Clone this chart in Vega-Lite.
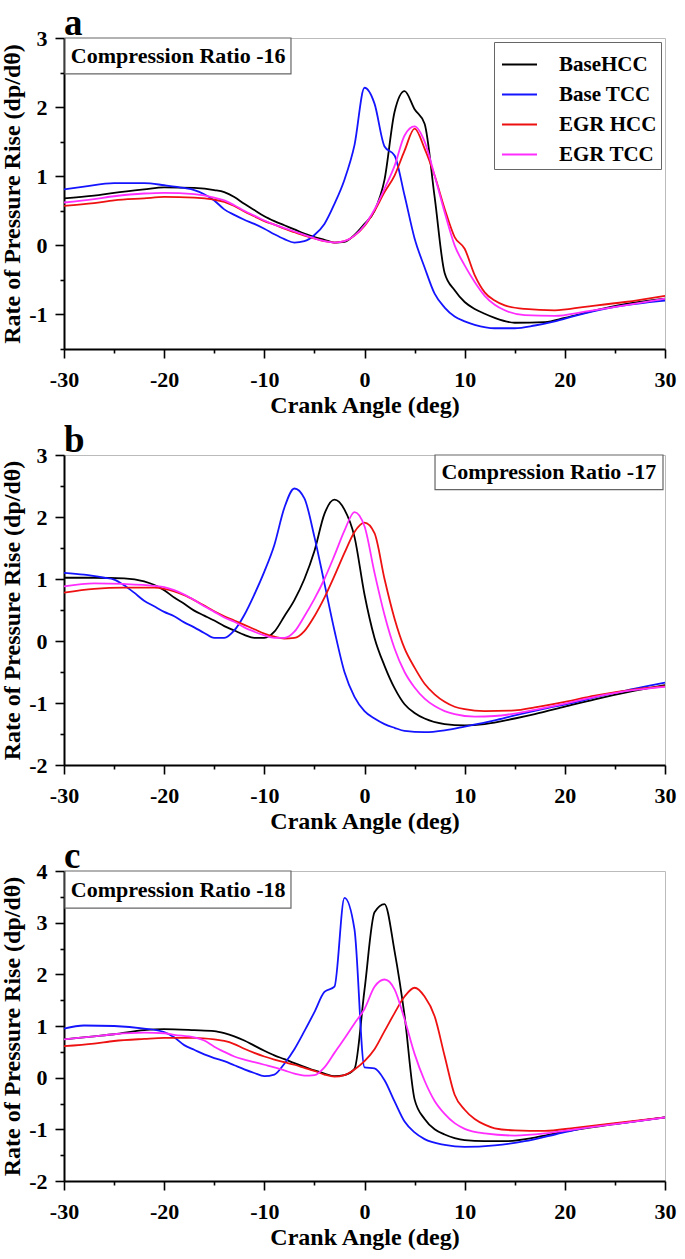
{
  "$schema": "https://vega.github.io/schema/vega-lite/v6.json",
  "background": "white",
  "padding": {"left": 0, "top": 4, "right": 4, "bottom": 2},
  "bounds": "flush",
  "spacing": 106,
  "config": {
    "font": "Liberation Serif",
    "view": {"stroke": "#bbbbbb", "strokeWidth": 1},
    "axis": {
      "labelFont": "Liberation Serif", "labelFontSize": 22, "labelFontWeight": "bold", "labelColor": "#000000",
      "titleFont": "Liberation Serif", "titleFontSize": 24, "titleFontWeight": "bold", "titleColor": "#000000",
      "domainColor": "#000000", "domainWidth": 2, "tickColor": "#000000", "tickWidth": 1.6, "tickSize": 9,
      "grid": false, "labelPadding": 8, "titlePadding": 4, "labelFlush": false, "labelOverlap": false, "labelBound": false,
      "labelExpr": "datum.value + ''"
    },
    "axisX": {"labelPadding": 11, "titlePadding": 3},
    "legend": {
      "labelFont": "Liberation Serif", "labelFontSize": 21, "labelFontWeight": "bold", "labelColor": "#000000",
      "symbolType": "stroke", "symbolStrokeWidth": 2, "symbolSize": 1225, "symbolOffset": 3,
      "padding": 4, "rowPadding": 1, "labelOffset": 21, "strokeColor": "#666666", "fillColor": "white"
    },
    "title": {"font": "Liberation Serif", "fontSize": 37, "fontWeight": "bold", "color": "#000000", "anchor": "start", "frame": "group", "offset": -16}
  },
  "resolve": {"scale": {"color": "independent"}, "legend": {"color": "independent"}},
  "datasets": {
    "curves": [
      {"panel":"a","series":"BaseHCC","angle":-30,"rate":0.68},{"panel":"a","series":"BaseHCC","angle":-27,"rate":0.72},{"panel":"a","series":"BaseHCC","angle":-25,"rate":0.76},{"panel":"a","series":"BaseHCC","angle":-22,"rate":0.81},{"panel":"a","series":"BaseHCC","angle":-20,"rate":0.84},{"panel":"a","series":"BaseHCC","angle":-17,"rate":0.83},{"panel":"a","series":"BaseHCC","angle":-15,"rate":0.8},{"panel":"a","series":"BaseHCC","angle":-14,"rate":0.77},{"panel":"a","series":"BaseHCC","angle":-13,"rate":0.7},{"panel":"a","series":"BaseHCC","angle":-12,"rate":0.6},{"panel":"a","series":"BaseHCC","angle":-11,"rate":0.51},{"panel":"a","series":"BaseHCC","angle":-10,"rate":0.42},{"panel":"a","series":"BaseHCC","angle":-9,"rate":0.35},{"panel":"a","series":"BaseHCC","angle":-8,"rate":0.29},{"panel":"a","series":"BaseHCC","angle":-7,"rate":0.23},{"panel":"a","series":"BaseHCC","angle":-6,"rate":0.17},{"panel":"a","series":"BaseHCC","angle":-5,"rate":0.12},{"panel":"a","series":"BaseHCC","angle":-4,"rate":0.08},{"panel":"a","series":"BaseHCC","angle":-3,"rate":0.04},{"panel":"a","series":"BaseHCC","angle":-2,"rate":0.05},{"panel":"a","series":"BaseHCC","angle":-1,"rate":0.15},{"panel":"a","series":"BaseHCC","angle":0,"rate":0.31},{"panel":"a","series":"BaseHCC","angle":1,"rate":0.5},{"panel":"a","series":"BaseHCC","angle":2,"rate":0.95},{"panel":"a","series":"BaseHCC","angle":3,"rate":1.93},{"panel":"a","series":"BaseHCC","angle":4,"rate":2.23},{"panel":"a","series":"BaseHCC","angle":5,"rate":1.97},{"panel":"a","series":"BaseHCC","angle":6,"rate":1.76},{"panel":"a","series":"BaseHCC","angle":7,"rate":0.7},{"panel":"a","series":"BaseHCC","angle":8,"rate":-0.4},{"panel":"a","series":"BaseHCC","angle":9,"rate":-0.65},{"panel":"a","series":"BaseHCC","angle":10,"rate":-0.82},{"panel":"a","series":"BaseHCC","angle":11,"rate":-0.92},{"panel":"a","series":"BaseHCC","angle":12,"rate":-0.99},{"panel":"a","series":"BaseHCC","angle":13,"rate":-1.05},{"panel":"a","series":"BaseHCC","angle":15,"rate":-1.12},{"panel":"a","series":"BaseHCC","angle":18,"rate":-1.11},{"panel":"a","series":"BaseHCC","angle":20,"rate":-1.05},{"panel":"a","series":"BaseHCC","angle":23,"rate":-0.94},{"panel":"a","series":"BaseHCC","angle":26,"rate":-0.85},{"panel":"a","series":"BaseHCC","angle":30,"rate":-0.77},
      {"panel":"a","series":"Base TCC","angle":-30,"rate":0.81},{"panel":"a","series":"Base TCC","angle":-28,"rate":0.85},{"panel":"a","series":"Base TCC","angle":-25,"rate":0.9},{"panel":"a","series":"Base TCC","angle":-22,"rate":0.9},{"panel":"a","series":"Base TCC","angle":-20,"rate":0.87},{"panel":"a","series":"Base TCC","angle":-18,"rate":0.83},{"panel":"a","series":"Base TCC","angle":-17,"rate":0.8},{"panel":"a","series":"Base TCC","angle":-16,"rate":0.74},{"panel":"a","series":"Base TCC","angle":-15,"rate":0.65},{"panel":"a","series":"Base TCC","angle":-14,"rate":0.52},{"panel":"a","series":"Base TCC","angle":-13,"rate":0.44},{"panel":"a","series":"Base TCC","angle":-12,"rate":0.37},{"panel":"a","series":"Base TCC","angle":-11,"rate":0.31},{"panel":"a","series":"Base TCC","angle":-10,"rate":0.24},{"panel":"a","series":"Base TCC","angle":-9,"rate":0.16},{"panel":"a","series":"Base TCC","angle":-8,"rate":0.09},{"panel":"a","series":"Base TCC","angle":-7,"rate":0.04},{"panel":"a","series":"Base TCC","angle":-6,"rate":0.06},{"panel":"a","series":"Base TCC","angle":-5,"rate":0.15},{"panel":"a","series":"Base TCC","angle":-4,"rate":0.31},{"panel":"a","series":"Base TCC","angle":-3,"rate":0.6},{"panel":"a","series":"Base TCC","angle":-2,"rate":0.95},{"panel":"a","series":"Base TCC","angle":-1,"rate":1.45},{"panel":"a","series":"Base TCC","angle":0,"rate":2.28},{"panel":"a","series":"Base TCC","angle":1,"rate":2.05},{"panel":"a","series":"Base TCC","angle":2,"rate":1.43},{"panel":"a","series":"Base TCC","angle":3,"rate":1.3},{"panel":"a","series":"Base TCC","angle":4,"rate":0.72},{"panel":"a","series":"Base TCC","angle":5,"rate":0.1},{"panel":"a","series":"Base TCC","angle":6,"rate":-0.32},{"panel":"a","series":"Base TCC","angle":7,"rate":-0.7},{"panel":"a","series":"Base TCC","angle":8,"rate":-0.9},{"panel":"a","series":"Base TCC","angle":9,"rate":-1.03},{"panel":"a","series":"Base TCC","angle":10,"rate":-1.1},{"panel":"a","series":"Base TCC","angle":11,"rate":-1.15},{"panel":"a","series":"Base TCC","angle":13,"rate":-1.2},{"panel":"a","series":"Base TCC","angle":15,"rate":-1.2},{"panel":"a","series":"Base TCC","angle":17,"rate":-1.16},{"panel":"a","series":"Base TCC","angle":19,"rate":-1.1},{"panel":"a","series":"Base TCC","angle":21,"rate":-1.02},{"panel":"a","series":"Base TCC","angle":25,"rate":-0.89},{"panel":"a","series":"Base TCC","angle":30,"rate":-0.8},
      {"panel":"a","series":"EGR HCC","angle":-30,"rate":0.57},{"panel":"a","series":"EGR HCC","angle":-27,"rate":0.61},{"panel":"a","series":"EGR HCC","angle":-25,"rate":0.65},{"panel":"a","series":"EGR HCC","angle":-22,"rate":0.68},{"panel":"a","series":"EGR HCC","angle":-20,"rate":0.7},{"panel":"a","series":"EGR HCC","angle":-17,"rate":0.69},{"panel":"a","series":"EGR HCC","angle":-15,"rate":0.66},{"panel":"a","series":"EGR HCC","angle":-14,"rate":0.63},{"panel":"a","series":"EGR HCC","angle":-13,"rate":0.57},{"panel":"a","series":"EGR HCC","angle":-12,"rate":0.49},{"panel":"a","series":"EGR HCC","angle":-11,"rate":0.42},{"panel":"a","series":"EGR HCC","angle":-10,"rate":0.35},{"panel":"a","series":"EGR HCC","angle":-9,"rate":0.3},{"panel":"a","series":"EGR HCC","angle":-8,"rate":0.24},{"panel":"a","series":"EGR HCC","angle":-7,"rate":0.19},{"panel":"a","series":"EGR HCC","angle":-6,"rate":0.14},{"panel":"a","series":"EGR HCC","angle":-5,"rate":0.1},{"panel":"a","series":"EGR HCC","angle":-4,"rate":0.06},{"panel":"a","series":"EGR HCC","angle":-3,"rate":0.04},{"panel":"a","series":"EGR HCC","angle":-2,"rate":0.06},{"panel":"a","series":"EGR HCC","angle":-1,"rate":0.14},{"panel":"a","series":"EGR HCC","angle":0,"rate":0.28},{"panel":"a","series":"EGR HCC","angle":1,"rate":0.5},{"panel":"a","series":"EGR HCC","angle":2,"rate":0.77},{"panel":"a","series":"EGR HCC","angle":3,"rate":1.01},{"panel":"a","series":"EGR HCC","angle":4,"rate":1.37},{"panel":"a","series":"EGR HCC","angle":5,"rate":1.69},{"panel":"a","series":"EGR HCC","angle":6,"rate":1.4},{"panel":"a","series":"EGR HCC","angle":7,"rate":1.01},{"panel":"a","series":"EGR HCC","angle":8,"rate":0.53},{"panel":"a","series":"EGR HCC","angle":9,"rate":0.12},{"panel":"a","series":"EGR HCC","angle":10,"rate":-0.05},{"panel":"a","series":"EGR HCC","angle":11,"rate":-0.43},{"panel":"a","series":"EGR HCC","angle":12,"rate":-0.68},{"panel":"a","series":"EGR HCC","angle":13,"rate":-0.8},{"panel":"a","series":"EGR HCC","angle":14,"rate":-0.87},{"panel":"a","series":"EGR HCC","angle":16,"rate":-0.92},{"panel":"a","series":"EGR HCC","angle":19,"rate":-0.94},{"panel":"a","series":"EGR HCC","angle":22,"rate":-0.89},{"panel":"a","series":"EGR HCC","angle":26,"rate":-0.82},{"panel":"a","series":"EGR HCC","angle":30,"rate":-0.73},
      {"panel":"a","series":"EGR TCC","angle":-30,"rate":0.62},{"panel":"a","series":"EGR TCC","angle":-27,"rate":0.67},{"panel":"a","series":"EGR TCC","angle":-25,"rate":0.71},{"panel":"a","series":"EGR TCC","angle":-22,"rate":0.75},{"panel":"a","series":"EGR TCC","angle":-20,"rate":0.76},{"panel":"a","series":"EGR TCC","angle":-17,"rate":0.74},{"panel":"a","series":"EGR TCC","angle":-15,"rate":0.69},{"panel":"a","series":"EGR TCC","angle":-14,"rate":0.65},{"panel":"a","series":"EGR TCC","angle":-13,"rate":0.58},{"panel":"a","series":"EGR TCC","angle":-12,"rate":0.5},{"panel":"a","series":"EGR TCC","angle":-11,"rate":0.43},{"panel":"a","series":"EGR TCC","angle":-10,"rate":0.36},{"panel":"a","series":"EGR TCC","angle":-9,"rate":0.3},{"panel":"a","series":"EGR TCC","angle":-8,"rate":0.25},{"panel":"a","series":"EGR TCC","angle":-7,"rate":0.2},{"panel":"a","series":"EGR TCC","angle":-6,"rate":0.15},{"panel":"a","series":"EGR TCC","angle":-5,"rate":0.1},{"panel":"a","series":"EGR TCC","angle":-4,"rate":0.06},{"panel":"a","series":"EGR TCC","angle":-3,"rate":0.04},{"panel":"a","series":"EGR TCC","angle":-2,"rate":0.06},{"panel":"a","series":"EGR TCC","angle":-1,"rate":0.14},{"panel":"a","series":"EGR TCC","angle":0,"rate":0.29},{"panel":"a","series":"EGR TCC","angle":1,"rate":0.52},{"panel":"a","series":"EGR TCC","angle":2,"rate":0.82},{"panel":"a","series":"EGR TCC","angle":3,"rate":1.15},{"panel":"a","series":"EGR TCC","angle":4,"rate":1.59},{"panel":"a","series":"EGR TCC","angle":5,"rate":1.72},{"panel":"a","series":"EGR TCC","angle":6,"rate":1.5},{"panel":"a","series":"EGR TCC","angle":7,"rate":1.01},{"panel":"a","series":"EGR TCC","angle":8,"rate":0.48},{"panel":"a","series":"EGR TCC","angle":9,"rate":0.0},{"panel":"a","series":"EGR TCC","angle":10,"rate":-0.29},{"panel":"a","series":"EGR TCC","angle":11,"rate":-0.53},{"panel":"a","series":"EGR TCC","angle":12,"rate":-0.73},{"panel":"a","series":"EGR TCC","angle":13,"rate":-0.86},{"panel":"a","series":"EGR TCC","angle":14,"rate":-0.94},{"panel":"a","series":"EGR TCC","angle":16,"rate":-1.01},{"panel":"a","series":"EGR TCC","angle":19,"rate":-1.02},{"panel":"a","series":"EGR TCC","angle":22,"rate":-0.96},{"panel":"a","series":"EGR TCC","angle":26,"rate":-0.87},{"panel":"a","series":"EGR TCC","angle":30,"rate":-0.77},
      {"panel":"b","series":"BaseHCC","angle":-30,"rate":1.02},{"panel":"b","series":"BaseHCC","angle":-27,"rate":1.02},{"panel":"b","series":"BaseHCC","angle":-24,"rate":1.01},{"panel":"b","series":"BaseHCC","angle":-22,"rate":0.96},{"panel":"b","series":"BaseHCC","angle":-20,"rate":0.82},{"panel":"b","series":"BaseHCC","angle":-19,"rate":0.7},{"panel":"b","series":"BaseHCC","angle":-18,"rate":0.6},{"panel":"b","series":"BaseHCC","angle":-17,"rate":0.49},{"panel":"b","series":"BaseHCC","angle":-16,"rate":0.41},{"panel":"b","series":"BaseHCC","angle":-15,"rate":0.33},{"panel":"b","series":"BaseHCC","angle":-14,"rate":0.24},{"panel":"b","series":"BaseHCC","angle":-13,"rate":0.17},{"panel":"b","series":"BaseHCC","angle":-12,"rate":0.1},{"panel":"b","series":"BaseHCC","angle":-11,"rate":0.05},{"panel":"b","series":"BaseHCC","angle":-10,"rate":0.05},{"panel":"b","series":"BaseHCC","angle":-9,"rate":0.15},{"panel":"b","series":"BaseHCC","angle":-8,"rate":0.4},{"panel":"b","series":"BaseHCC","angle":-7,"rate":0.66},{"panel":"b","series":"BaseHCC","angle":-6,"rate":1.0},{"panel":"b","series":"BaseHCC","angle":-5,"rate":1.45},{"panel":"b","series":"BaseHCC","angle":-4,"rate":2.05},{"panel":"b","series":"BaseHCC","angle":-3,"rate":2.28},{"panel":"b","series":"BaseHCC","angle":-2,"rate":2.12},{"panel":"b","series":"BaseHCC","angle":-1,"rate":1.68},{"panel":"b","series":"BaseHCC","angle":0,"rate":0.75},{"panel":"b","series":"BaseHCC","angle":1,"rate":0.05},{"panel":"b","series":"BaseHCC","angle":2,"rate":-0.4},{"panel":"b","series":"BaseHCC","angle":3,"rate":-0.76},{"panel":"b","series":"BaseHCC","angle":4,"rate":-1.02},{"panel":"b","series":"BaseHCC","angle":5,"rate":-1.16},{"panel":"b","series":"BaseHCC","angle":6,"rate":-1.25},{"panel":"b","series":"BaseHCC","angle":8,"rate":-1.34},{"panel":"b","series":"BaseHCC","angle":10,"rate":-1.36},{"panel":"b","series":"BaseHCC","angle":12,"rate":-1.34},{"panel":"b","series":"BaseHCC","angle":15,"rate":-1.25},{"panel":"b","series":"BaseHCC","angle":17,"rate":-1.18},{"panel":"b","series":"BaseHCC","angle":20,"rate":-1.06},{"panel":"b","series":"BaseHCC","angle":23,"rate":-0.94},{"panel":"b","series":"BaseHCC","angle":27,"rate":-0.8},{"panel":"b","series":"BaseHCC","angle":30,"rate":-0.71},
      {"panel":"b","series":"Base TCC","angle":-30,"rate":1.1},{"panel":"b","series":"Base TCC","angle":-28,"rate":1.07},{"panel":"b","series":"Base TCC","angle":-26,"rate":1.02},{"panel":"b","series":"Base TCC","angle":-25,"rate":0.99},{"panel":"b","series":"Base TCC","angle":-24,"rate":0.9},{"panel":"b","series":"Base TCC","angle":-23,"rate":0.78},{"panel":"b","series":"Base TCC","angle":-22,"rate":0.65},{"panel":"b","series":"Base TCC","angle":-21,"rate":0.56},{"panel":"b","series":"Base TCC","angle":-20,"rate":0.47},{"panel":"b","series":"Base TCC","angle":-19,"rate":0.4},{"panel":"b","series":"Base TCC","angle":-18,"rate":0.3},{"panel":"b","series":"Base TCC","angle":-17,"rate":0.22},{"panel":"b","series":"Base TCC","angle":-16,"rate":0.13},{"panel":"b","series":"Base TCC","angle":-15,"rate":0.05},{"panel":"b","series":"Base TCC","angle":-14,"rate":0.05},{"panel":"b","series":"Base TCC","angle":-13,"rate":0.17},{"panel":"b","series":"Base TCC","angle":-12,"rate":0.42},{"panel":"b","series":"Base TCC","angle":-11,"rate":0.75},{"panel":"b","series":"Base TCC","angle":-10,"rate":1.12},{"panel":"b","series":"Base TCC","angle":-9,"rate":1.55},{"panel":"b","series":"Base TCC","angle":-8,"rate":2.15},{"panel":"b","series":"Base TCC","angle":-7,"rate":2.46},{"panel":"b","series":"Base TCC","angle":-6,"rate":2.3},{"panel":"b","series":"Base TCC","angle":-5,"rate":1.68},{"panel":"b","series":"Base TCC","angle":-4,"rate":0.93},{"panel":"b","series":"Base TCC","angle":-3,"rate":0.17},{"panel":"b","series":"Base TCC","angle":-2,"rate":-0.5},{"panel":"b","series":"Base TCC","angle":-1,"rate":-0.9},{"panel":"b","series":"Base TCC","angle":0,"rate":-1.13},{"panel":"b","series":"Base TCC","angle":1,"rate":-1.25},{"panel":"b","series":"Base TCC","angle":2,"rate":-1.34},{"panel":"b","series":"Base TCC","angle":3,"rate":-1.4},{"panel":"b","series":"Base TCC","angle":4,"rate":-1.45},{"panel":"b","series":"Base TCC","angle":6,"rate":-1.47},{"panel":"b","series":"Base TCC","angle":8,"rate":-1.44},{"panel":"b","series":"Base TCC","angle":10,"rate":-1.38},{"panel":"b","series":"Base TCC","angle":13,"rate":-1.28},{"panel":"b","series":"Base TCC","angle":15,"rate":-1.2},{"panel":"b","series":"Base TCC","angle":18,"rate":-1.09},{"panel":"b","series":"Base TCC","angle":21,"rate":-0.99},{"panel":"b","series":"Base TCC","angle":24,"rate":-0.87},{"panel":"b","series":"Base TCC","angle":27,"rate":-0.77},{"panel":"b","series":"Base TCC","angle":30,"rate":-0.67},
      {"panel":"b","series":"EGR HCC","angle":-30,"rate":0.78},{"panel":"b","series":"EGR HCC","angle":-27,"rate":0.84},{"panel":"b","series":"EGR HCC","angle":-24,"rate":0.86},{"panel":"b","series":"EGR HCC","angle":-21,"rate":0.86},{"panel":"b","series":"EGR HCC","angle":-20,"rate":0.84},{"panel":"b","series":"EGR HCC","angle":-19,"rate":0.8},{"panel":"b","series":"EGR HCC","angle":-18,"rate":0.74},{"panel":"b","series":"EGR HCC","angle":-17,"rate":0.66},{"panel":"b","series":"EGR HCC","angle":-16,"rate":0.57},{"panel":"b","series":"EGR HCC","angle":-15,"rate":0.48},{"panel":"b","series":"EGR HCC","angle":-14,"rate":0.4},{"panel":"b","series":"EGR HCC","angle":-13,"rate":0.33},{"panel":"b","series":"EGR HCC","angle":-12,"rate":0.26},{"panel":"b","series":"EGR HCC","angle":-11,"rate":0.19},{"panel":"b","series":"EGR HCC","angle":-10,"rate":0.12},{"panel":"b","series":"EGR HCC","angle":-9,"rate":0.07},{"panel":"b","series":"EGR HCC","angle":-8,"rate":0.04},{"panel":"b","series":"EGR HCC","angle":-7,"rate":0.05},{"panel":"b","series":"EGR HCC","angle":-6,"rate":0.16},{"panel":"b","series":"EGR HCC","angle":-5,"rate":0.4},{"panel":"b","series":"EGR HCC","angle":-4,"rate":0.7},{"panel":"b","series":"EGR HCC","angle":-3,"rate":1.05},{"panel":"b","series":"EGR HCC","angle":-2,"rate":1.42},{"panel":"b","series":"EGR HCC","angle":-1,"rate":1.76},{"panel":"b","series":"EGR HCC","angle":0,"rate":1.91},{"panel":"b","series":"EGR HCC","angle":1,"rate":1.74},{"panel":"b","series":"EGR HCC","angle":2,"rate":1.0},{"panel":"b","series":"EGR HCC","angle":3,"rate":0.36},{"panel":"b","series":"EGR HCC","angle":4,"rate":-0.12},{"panel":"b","series":"EGR HCC","angle":5,"rate":-0.43},{"panel":"b","series":"EGR HCC","angle":6,"rate":-0.69},{"panel":"b","series":"EGR HCC","angle":7,"rate":-0.86},{"panel":"b","series":"EGR HCC","angle":8,"rate":-0.98},{"panel":"b","series":"EGR HCC","angle":9,"rate":-1.06},{"panel":"b","series":"EGR HCC","angle":10,"rate":-1.1},{"panel":"b","series":"EGR HCC","angle":12,"rate":-1.13},{"panel":"b","series":"EGR HCC","angle":15,"rate":-1.12},{"panel":"b","series":"EGR HCC","angle":17,"rate":-1.07},{"panel":"b","series":"EGR HCC","angle":20,"rate":-0.98},{"panel":"b","series":"EGR HCC","angle":23,"rate":-0.88},{"panel":"b","series":"EGR HCC","angle":27,"rate":-0.78},{"panel":"b","series":"EGR HCC","angle":30,"rate":-0.73},
      {"panel":"b","series":"EGR TCC","angle":-30,"rate":0.88},{"panel":"b","series":"EGR TCC","angle":-27,"rate":0.93},{"panel":"b","series":"EGR TCC","angle":-24,"rate":0.92},{"panel":"b","series":"EGR TCC","angle":-21,"rate":0.89},{"panel":"b","series":"EGR TCC","angle":-20,"rate":0.87},{"panel":"b","series":"EGR TCC","angle":-19,"rate":0.82},{"panel":"b","series":"EGR TCC","angle":-18,"rate":0.75},{"panel":"b","series":"EGR TCC","angle":-17,"rate":0.66},{"panel":"b","series":"EGR TCC","angle":-16,"rate":0.56},{"panel":"b","series":"EGR TCC","angle":-15,"rate":0.47},{"panel":"b","series":"EGR TCC","angle":-14,"rate":0.38},{"panel":"b","series":"EGR TCC","angle":-13,"rate":0.31},{"panel":"b","series":"EGR TCC","angle":-12,"rate":0.22},{"panel":"b","series":"EGR TCC","angle":-11,"rate":0.15},{"panel":"b","series":"EGR TCC","angle":-10,"rate":0.09},{"panel":"b","series":"EGR TCC","angle":-9,"rate":0.05},{"panel":"b","series":"EGR TCC","angle":-8,"rate":0.05},{"panel":"b","series":"EGR TCC","angle":-7,"rate":0.15},{"panel":"b","series":"EGR TCC","angle":-6,"rate":0.4},{"panel":"b","series":"EGR TCC","angle":-5,"rate":0.68},{"panel":"b","series":"EGR TCC","angle":-4,"rate":1.0},{"panel":"b","series":"EGR TCC","angle":-3,"rate":1.38},{"panel":"b","series":"EGR TCC","angle":-2,"rate":1.78},{"panel":"b","series":"EGR TCC","angle":-1,"rate":2.08},{"panel":"b","series":"EGR TCC","angle":0,"rate":1.85},{"panel":"b","series":"EGR TCC","angle":1,"rate":1.1},{"panel":"b","series":"EGR TCC","angle":2,"rate":0.42},{"panel":"b","series":"EGR TCC","angle":3,"rate":-0.12},{"panel":"b","series":"EGR TCC","angle":4,"rate":-0.5},{"panel":"b","series":"EGR TCC","angle":5,"rate":-0.75},{"panel":"b","series":"EGR TCC","angle":6,"rate":-0.93},{"panel":"b","series":"EGR TCC","angle":7,"rate":-1.05},{"panel":"b","series":"EGR TCC","angle":8,"rate":-1.13},{"panel":"b","series":"EGR TCC","angle":9,"rate":-1.18},{"panel":"b","series":"EGR TCC","angle":11,"rate":-1.22},{"panel":"b","series":"EGR TCC","angle":13,"rate":-1.21},{"panel":"b","series":"EGR TCC","angle":15,"rate":-1.17},{"panel":"b","series":"EGR TCC","angle":17,"rate":-1.11},{"panel":"b","series":"EGR TCC","angle":20,"rate":-1.01},{"panel":"b","series":"EGR TCC","angle":23,"rate":-0.9},{"panel":"b","series":"EGR TCC","angle":27,"rate":-0.79},{"panel":"b","series":"EGR TCC","angle":30,"rate":-0.74},
      {"panel":"c","series":"BaseHCC","angle":-30,"rate":0.74},{"panel":"c","series":"BaseHCC","angle":-27,"rate":0.8},{"panel":"c","series":"BaseHCC","angle":-25,"rate":0.84},{"panel":"c","series":"BaseHCC","angle":-22,"rate":0.92},{"panel":"c","series":"BaseHCC","angle":-20,"rate":0.94},{"panel":"c","series":"BaseHCC","angle":-17,"rate":0.92},{"panel":"c","series":"BaseHCC","angle":-15,"rate":0.9},{"panel":"c","series":"BaseHCC","angle":-14,"rate":0.86},{"panel":"c","series":"BaseHCC","angle":-13,"rate":0.8},{"panel":"c","series":"BaseHCC","angle":-12,"rate":0.72},{"panel":"c","series":"BaseHCC","angle":-11,"rate":0.62},{"panel":"c","series":"BaseHCC","angle":-10,"rate":0.52},{"panel":"c","series":"BaseHCC","angle":-9,"rate":0.43},{"panel":"c","series":"BaseHCC","angle":-8,"rate":0.36},{"panel":"c","series":"BaseHCC","angle":-7,"rate":0.28},{"panel":"c","series":"BaseHCC","angle":-6,"rate":0.21},{"panel":"c","series":"BaseHCC","angle":-5,"rate":0.14},{"panel":"c","series":"BaseHCC","angle":-4,"rate":0.08},{"panel":"c","series":"BaseHCC","angle":-3,"rate":0.03},{"panel":"c","series":"BaseHCC","angle":-2,"rate":0.05},{"panel":"c","series":"BaseHCC","angle":-1,"rate":0.17},{"panel":"c","series":"BaseHCC","angle":0,"rate":1.7},{"panel":"c","series":"BaseHCC","angle":1,"rate":3.2},{"panel":"c","series":"BaseHCC","angle":2,"rate":3.36},{"panel":"c","series":"BaseHCC","angle":3,"rate":2.45},{"panel":"c","series":"BaseHCC","angle":4,"rate":1.2},{"panel":"c","series":"BaseHCC","angle":5,"rate":-0.42},{"panel":"c","series":"BaseHCC","angle":6,"rate":-0.8},{"panel":"c","series":"BaseHCC","angle":7,"rate":-1.0},{"panel":"c","series":"BaseHCC","angle":8,"rate":-1.1},{"panel":"c","series":"BaseHCC","angle":9,"rate":-1.17},{"panel":"c","series":"BaseHCC","angle":10,"rate":-1.21},{"panel":"c","series":"BaseHCC","angle":12,"rate":-1.23},{"panel":"c","series":"BaseHCC","angle":14,"rate":-1.23},{"panel":"c","series":"BaseHCC","angle":17,"rate":-1.16},{"panel":"c","series":"BaseHCC","angle":20,"rate":-1.04},{"panel":"c","series":"BaseHCC","angle":25,"rate":-0.9},{"panel":"c","series":"BaseHCC","angle":30,"rate":-0.77},
      {"panel":"c","series":"Base TCC","angle":-30,"rate":0.95},{"panel":"c","series":"Base TCC","angle":-28,"rate":1.01},{"panel":"c","series":"Base TCC","angle":-25,"rate":1.0},{"panel":"c","series":"Base TCC","angle":-22,"rate":0.95},{"panel":"c","series":"Base TCC","angle":-20,"rate":0.88},{"panel":"c","series":"Base TCC","angle":-19,"rate":0.78},{"panel":"c","series":"Base TCC","angle":-18,"rate":0.63},{"panel":"c","series":"Base TCC","angle":-17,"rate":0.54},{"panel":"c","series":"Base TCC","angle":-16,"rate":0.45},{"panel":"c","series":"Base TCC","angle":-15,"rate":0.38},{"panel":"c","series":"Base TCC","angle":-14,"rate":0.32},{"panel":"c","series":"Base TCC","angle":-13,"rate":0.24},{"panel":"c","series":"Base TCC","angle":-12,"rate":0.16},{"panel":"c","series":"Base TCC","angle":-11,"rate":0.09},{"panel":"c","series":"Base TCC","angle":-10,"rate":0.03},{"panel":"c","series":"Base TCC","angle":-9,"rate":0.06},{"panel":"c","series":"Base TCC","angle":-8,"rate":0.27},{"panel":"c","series":"Base TCC","angle":-7,"rate":0.55},{"panel":"c","series":"Base TCC","angle":-6,"rate":0.9},{"panel":"c","series":"Base TCC","angle":-5,"rate":1.27},{"panel":"c","series":"Base TCC","angle":-4,"rate":1.66},{"panel":"c","series":"Base TCC","angle":-3,"rate":1.76},{"panel":"c","series":"Base TCC","angle":-2,"rate":3.48},{"panel":"c","series":"Base TCC","angle":-1,"rate":2.87},{"panel":"c","series":"Base TCC","angle":0,"rate":0.2},{"panel":"c","series":"Base TCC","angle":1,"rate":0.18},{"panel":"c","series":"Base TCC","angle":2,"rate":-0.05},{"panel":"c","series":"Base TCC","angle":3,"rate":-0.46},{"panel":"c","series":"Base TCC","angle":4,"rate":-0.85},{"panel":"c","series":"Base TCC","angle":5,"rate":-1.06},{"panel":"c","series":"Base TCC","angle":6,"rate":-1.19},{"panel":"c","series":"Base TCC","angle":8,"rate":-1.3},{"panel":"c","series":"Base TCC","angle":10,"rate":-1.34},{"panel":"c","series":"Base TCC","angle":13,"rate":-1.31},{"panel":"c","series":"Base TCC","angle":16,"rate":-1.23},{"panel":"c","series":"Base TCC","angle":19,"rate":-1.1},{"panel":"c","series":"Base TCC","angle":22,"rate":-0.97},{"panel":"c","series":"Base TCC","angle":26,"rate":-0.87},{"panel":"c","series":"Base TCC","angle":30,"rate":-0.77},
      {"panel":"c","series":"EGR HCC","angle":-30,"rate":0.61},{"panel":"c","series":"EGR HCC","angle":-27,"rate":0.66},{"panel":"c","series":"EGR HCC","angle":-25,"rate":0.71},{"panel":"c","series":"EGR HCC","angle":-22,"rate":0.75},{"panel":"c","series":"EGR HCC","angle":-20,"rate":0.77},{"panel":"c","series":"EGR HCC","angle":-17,"rate":0.77},{"panel":"c","series":"EGR HCC","angle":-15,"rate":0.74},{"panel":"c","series":"EGR HCC","angle":-14,"rate":0.71},{"panel":"c","series":"EGR HCC","angle":-13,"rate":0.65},{"panel":"c","series":"EGR HCC","angle":-12,"rate":0.56},{"panel":"c","series":"EGR HCC","angle":-11,"rate":0.48},{"panel":"c","series":"EGR HCC","angle":-10,"rate":0.41},{"panel":"c","series":"EGR HCC","angle":-9,"rate":0.35},{"panel":"c","series":"EGR HCC","angle":-8,"rate":0.3},{"panel":"c","series":"EGR HCC","angle":-7,"rate":0.25},{"panel":"c","series":"EGR HCC","angle":-6,"rate":0.19},{"panel":"c","series":"EGR HCC","angle":-5,"rate":0.13},{"panel":"c","series":"EGR HCC","angle":-4,"rate":0.06},{"panel":"c","series":"EGR HCC","angle":-3,"rate":0.02},{"panel":"c","series":"EGR HCC","angle":-2,"rate":0.05},{"panel":"c","series":"EGR HCC","angle":-1,"rate":0.16},{"panel":"c","series":"EGR HCC","angle":0,"rate":0.32},{"panel":"c","series":"EGR HCC","angle":1,"rate":0.55},{"panel":"c","series":"EGR HCC","angle":2,"rate":0.9},{"panel":"c","series":"EGR HCC","angle":3,"rate":1.25},{"panel":"c","series":"EGR HCC","angle":4,"rate":1.57},{"panel":"c","series":"EGR HCC","angle":5,"rate":1.74},{"panel":"c","series":"EGR HCC","angle":6,"rate":1.57},{"panel":"c","series":"EGR HCC","angle":7,"rate":1.19},{"panel":"c","series":"EGR HCC","angle":8,"rate":0.42},{"panel":"c","series":"EGR HCC","angle":9,"rate":-0.33},{"panel":"c","series":"EGR HCC","angle":10,"rate":-0.62},{"panel":"c","series":"EGR HCC","angle":11,"rate":-0.8},{"panel":"c","series":"EGR HCC","angle":12,"rate":-0.91},{"panel":"c","series":"EGR HCC","angle":13,"rate":-0.98},{"panel":"c","series":"EGR HCC","angle":15,"rate":-1.02},{"panel":"c","series":"EGR HCC","angle":18,"rate":-1.03},{"panel":"c","series":"EGR HCC","angle":21,"rate":-0.97},{"panel":"c","series":"EGR HCC","angle":25,"rate":-0.88},{"panel":"c","series":"EGR HCC","angle":30,"rate":-0.77},
      {"panel":"c","series":"EGR TCC","angle":-30,"rate":0.74},{"panel":"c","series":"EGR TCC","angle":-27,"rate":0.8},{"panel":"c","series":"EGR TCC","angle":-25,"rate":0.84},{"panel":"c","series":"EGR TCC","angle":-22,"rate":0.87},{"panel":"c","series":"EGR TCC","angle":-20,"rate":0.86},{"panel":"c","series":"EGR TCC","angle":-19,"rate":0.83},{"panel":"c","series":"EGR TCC","angle":-17,"rate":0.78},{"panel":"c","series":"EGR TCC","angle":-16,"rate":0.72},{"panel":"c","series":"EGR TCC","angle":-15,"rate":0.6},{"panel":"c","series":"EGR TCC","angle":-14,"rate":0.5},{"panel":"c","series":"EGR TCC","angle":-13,"rate":0.41},{"panel":"c","series":"EGR TCC","angle":-12,"rate":0.35},{"panel":"c","series":"EGR TCC","angle":-11,"rate":0.3},{"panel":"c","series":"EGR TCC","angle":-10,"rate":0.25},{"panel":"c","series":"EGR TCC","angle":-9,"rate":0.2},{"panel":"c","series":"EGR TCC","angle":-8,"rate":0.14},{"panel":"c","series":"EGR TCC","angle":-7,"rate":0.08},{"panel":"c","series":"EGR TCC","angle":-6,"rate":0.04},{"panel":"c","series":"EGR TCC","angle":-5,"rate":0.05},{"panel":"c","series":"EGR TCC","angle":-4,"rate":0.2},{"panel":"c","series":"EGR TCC","angle":-3,"rate":0.48},{"panel":"c","series":"EGR TCC","angle":-2,"rate":0.76},{"panel":"c","series":"EGR TCC","angle":-1,"rate":1.05},{"panel":"c","series":"EGR TCC","angle":0,"rate":1.33},{"panel":"c","series":"EGR TCC","angle":1,"rate":1.76},{"panel":"c","series":"EGR TCC","angle":2,"rate":1.9},{"panel":"c","series":"EGR TCC","angle":3,"rate":1.71},{"panel":"c","series":"EGR TCC","angle":4,"rate":1.13},{"panel":"c","series":"EGR TCC","angle":5,"rate":0.46},{"panel":"c","series":"EGR TCC","angle":6,"rate":-0.06},{"panel":"c","series":"EGR TCC","angle":7,"rate":-0.45},{"panel":"c","series":"EGR TCC","angle":8,"rate":-0.7},{"panel":"c","series":"EGR TCC","angle":9,"rate":-0.88},{"panel":"c","series":"EGR TCC","angle":10,"rate":-0.99},{"panel":"c","series":"EGR TCC","angle":12,"rate":-1.08},{"panel":"c","series":"EGR TCC","angle":15,"rate":-1.12},{"panel":"c","series":"EGR TCC","angle":18,"rate":-1.08},{"panel":"c","series":"EGR TCC","angle":21,"rate":-1.0},{"panel":"c","series":"EGR TCC","angle":25,"rate":-0.9},{"panel":"c","series":"EGR TCC","angle":30,"rate":-0.77}
    ]
  },
  "vconcat": [
    {
      "width": 601, "height": 311,
      "title": {"text": "a"},
      "resolve": {"axis": {"x": "independent", "y": "independent"}},
      "layer": [
        {
          "data": {"name": "curves"},
          "transform": [{"filter": "datum.panel === 'a'"}],
          "mark": {"type": "line", "strokeWidth": 1.8, "interpolate": "monotone"},
          "encoding": {
            "x": {"field": "angle", "type": "quantitative", "scale": {"domain": [-30, 30], "nice": false}, "axis": {"orient": "bottom", "values": [-30, -20, -10, 0, 10, 20, 30], "title": "Crank Angle (deg)"}},
            "y": {"field": "rate", "type": "quantitative", "scale": {"domain": [-1.5, 3], "nice": false, "zero": false}, "axis": {"orient": "left", "values": [-1, 0, 1, 2, 3], "title": "Rate of Pressure Rise (dp/dθ)"}},
            "color": {"field": "series", "type": "nominal", "scale": {"domain": ["BaseHCC", "Base TCC", "EGR HCC", "EGR TCC"], "range": ["#000000", "#1414ff", "#ee1111", "#ff2eff"]}, "legend": {"title": null, "orient": "top-right", "offset": 4}}
          }
        },
        {
          "data": {"values": [{"label": "Compression Ratio -16"}]},
          "mark": {"type": "rect", "fill": "white", "stroke": "#666666", "strokeWidth": 1.2},
          "encoding": {
            "x": {"datum": -29.9, "type": "quantitative", "axis": {"orient": "bottom", "values": [-25, -15, -5, 5, 15, 25], "labels": false, "domain": false, "tickSize": 4, "title": null}},
            "x2": {"datum": -7.34},
            "y": {"datum": 3, "type": "quantitative", "axis": {"orient": "left", "values": [-1.5, -0.5, 0.5, 1.5, 2.5], "labels": false, "domain": false, "tickSize": 4, "title": null}},
            "y2": {"datum": 2.48}
          }
        },
        {
          "data": {"values": [{"label": "Compression Ratio -16"}]},
          "mark": {"type": "text", "font": "Liberation Serif", "fontSize": 22, "fontWeight": "bold", "color": "#000000", "align": "center", "baseline": "middle"},
          "encoding": {
            "x": {"datum": -18.6, "type": "quantitative", "axis": null},
            "y": {"datum": 2.74, "type": "quantitative", "axis": null},
            "text": {"field": "label"}
          }
        }
      ]
    },
    {
      "width": 601, "height": 310,
      "title": {"text": "b"},
      "resolve": {"axis": {"x": "independent", "y": "independent"}},
      "layer": [
        {
          "data": {"name": "curves"},
          "transform": [{"filter": "datum.panel === 'b'"}],
          "mark": {"type": "line", "strokeWidth": 1.8, "interpolate": "monotone"},
          "encoding": {
            "x": {"field": "angle", "type": "quantitative", "scale": {"domain": [-30, 30], "nice": false}, "axis": {"orient": "bottom", "values": [-30, -20, -10, 0, 10, 20, 30], "title": "Crank Angle (deg)"}},
            "y": {"field": "rate", "type": "quantitative", "scale": {"domain": [-2, 3], "nice": false, "zero": false}, "axis": {"orient": "left", "values": [-2, -1, 0, 1, 2, 3], "title": "Rate of Pressure Rise (dp/dθ)"}},
            "color": {"field": "series", "type": "nominal", "scale": {"domain": ["BaseHCC", "Base TCC", "EGR HCC", "EGR TCC"], "range": ["#000000", "#1414ff", "#ee1111", "#ff2eff"]}, "legend": null}
          }
        },
        {
          "data": {"values": [{"label": "Compression Ratio -17"}]},
          "mark": {"type": "rect", "fill": "white", "stroke": "#666666", "strokeWidth": 1.2},
          "encoding": {
            "x": {"datum": 7.04, "type": "quantitative", "axis": {"orient": "bottom", "values": [-25, -15, -5, 5, 15, 25], "labels": false, "domain": false, "tickSize": 4, "title": null}},
            "x2": {"datum": 29.8},
            "y": {"datum": 3, "type": "quantitative", "axis": {"orient": "left", "values": [-1.5, -0.5, 0.5, 1.5, 2.5], "labels": false, "domain": false, "tickSize": 4, "title": null}},
            "y2": {"datum": 2.44}
          }
        },
        {
          "data": {"values": [{"label": "Compression Ratio -17"}]},
          "mark": {"type": "text", "font": "Liberation Serif", "fontSize": 22, "fontWeight": "bold", "color": "#000000", "align": "center", "baseline": "middle"},
          "encoding": {
            "x": {"datum": 18.4, "type": "quantitative", "axis": null},
            "y": {"datum": 2.72, "type": "quantitative", "axis": null},
            "text": {"field": "label"}
          }
        }
      ]
    },
    {
      "width": 601, "height": 310,
      "title": {"text": "c"},
      "resolve": {"axis": {"x": "independent", "y": "independent"}},
      "layer": [
        {
          "data": {"name": "curves"},
          "transform": [{"filter": "datum.panel === 'c'"}],
          "mark": {"type": "line", "strokeWidth": 1.8, "interpolate": "monotone"},
          "encoding": {
            "x": {"field": "angle", "type": "quantitative", "scale": {"domain": [-30, 30], "nice": false}, "axis": {"orient": "bottom", "values": [-30, -20, -10, 0, 10, 20, 30], "title": "Crank Angle (deg)"}},
            "y": {"field": "rate", "type": "quantitative", "scale": {"domain": [-2, 4], "nice": false, "zero": false}, "axis": {"orient": "left", "values": [-2, -1, 0, 1, 2, 3, 4], "title": "Rate of Pressure Rise (dp/dθ)"}},
            "color": {"field": "series", "type": "nominal", "scale": {"domain": ["BaseHCC", "Base TCC", "EGR HCC", "EGR TCC"], "range": ["#000000", "#1414ff", "#ee1111", "#ff2eff"]}, "legend": null}
          }
        },
        {
          "data": {"values": [{"label": "Compression Ratio -18"}]},
          "mark": {"type": "rect", "fill": "white", "stroke": "#666666", "strokeWidth": 1.2},
          "encoding": {
            "x": {"datum": -29.9, "type": "quantitative", "axis": {"orient": "bottom", "values": [-25, -15, -5, 5, 15, 25], "labels": false, "domain": false, "tickSize": 4, "title": null}},
            "x2": {"datum": -7.34},
            "y": {"datum": 4, "type": "quantitative", "axis": {"orient": "left", "values": [-1.5, -0.5, 0.5, 1.5, 2.5, 3.5], "labels": false, "domain": false, "tickSize": 4, "title": null}},
            "y2": {"datum": 3.28}
          }
        },
        {
          "data": {"values": [{"label": "Compression Ratio -18"}]},
          "mark": {"type": "text", "font": "Liberation Serif", "fontSize": 22, "fontWeight": "bold", "color": "#000000", "align": "center", "baseline": "middle"},
          "encoding": {
            "x": {"datum": -18.6, "type": "quantitative", "axis": null},
            "y": {"datum": 3.64, "type": "quantitative", "axis": null},
            "text": {"field": "label"}
          }
        }
      ]
    }
  ]
}
